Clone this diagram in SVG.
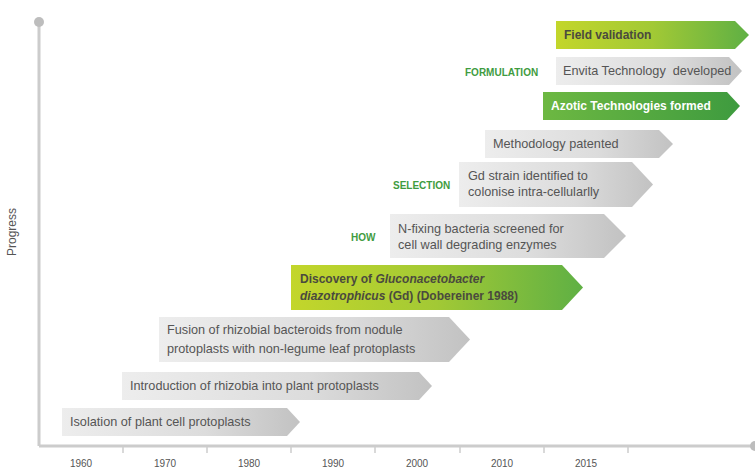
<svg xmlns="http://www.w3.org/2000/svg" width="755" height="469" viewBox="0 0 755 469">
<defs>
<linearGradient id="gGray" x1="0" y1="0" x2="1" y2="0">
<stop offset="0" stop-color="#ededed"/>
<stop offset="0.6" stop-color="#dcdcdc"/>
<stop offset="1" stop-color="#c2c2c2"/>
</linearGradient>
<linearGradient id="gLime" x1="0" y1="0" x2="1" y2="0">
<stop offset="0" stop-color="#c3d62b"/>
<stop offset="0.5" stop-color="#a2c935"/>
<stop offset="1" stop-color="#5fb044"/>
</linearGradient>
<linearGradient id="gGreen" x1="0" y1="0" x2="1" y2="0">
<stop offset="0" stop-color="#6db842"/>
<stop offset="1" stop-color="#3e9b3f"/>
</linearGradient>
</defs>
<style>
text{font-family:"Liberation Sans",Arial,sans-serif;}
.t{font-size:12.7px;fill:#555;}
.tb{font-size:12px;fill:#4a4a3e;font-weight:bold;}
.tw{font-size:12px;fill:#fff;font-weight:bold;}
.lab{font-size:10px;fill:#3f9c3f;font-weight:bold;}
.yr{font-size:10px;fill:#555;text-anchor:middle;}
.axis{stroke:#cccccc;stroke-width:3;fill:none;}
.tick{stroke:#cccccc;stroke-width:1.5;}
.gray{fill:url(#gGray);}
.lime{fill:url(#gLime);}
.green{fill:url(#gGreen);}
</style>
<rect width="755" height="469" fill="#ffffff"/>
<g id="axes">
<line class="axis" x1="39" y1="22" x2="39" y2="446"/>
<line class="axis" x1="39" y1="446" x2="754" y2="446"/>
<circle cx="39" cy="22" r="5" fill="#bdbdbd"/>
<circle cx="755" cy="446" r="5" fill="#bdbdbd"/>
<line class="tick" x1="123" y1="446" x2="123" y2="453"/>
<line class="tick" x1="207" y1="446" x2="207" y2="453"/>
<line class="tick" x1="291" y1="446" x2="291" y2="453"/>
<line class="tick" x1="375" y1="446" x2="375" y2="453"/>
<line class="tick" x1="460" y1="446" x2="460" y2="453"/>
<line class="tick" x1="544" y1="446" x2="544" y2="453"/>
<line class="tick" x1="628" y1="446" x2="628" y2="453"/>
<text class="yr" x="81" y="467">1960</text>
<text class="yr" x="165" y="467">1970</text>
<text class="yr" x="249" y="467">1980</text>
<text class="yr" x="333" y="467">1990</text>
<text class="yr" x="417" y="467">2000</text>
<text class="yr" x="502" y="467">2010</text>
<text class="yr" x="586" y="467">2015</text>
<text x="16" y="232" transform="rotate(-90 16 232)" text-anchor="middle" style="font-size:12px;fill:#555;font-family:'Liberation Sans',Arial,sans-serif">Progress</text>
</g>
<g id="phase-labels">
<text class="lab" x="465" y="76">FORMULATION</text>
<text class="lab" x="393" y="189">SELECTION</text>
<text class="lab" x="351" y="241">HOW</text>
</g>
<g id="field-validation">
<path class="lime" d="M556 21H735L749 35L735 49H556Z"/>
<text class="tb" x="564" y="39">Field validation</text>
</g>
<g id="envita">
<path class="gray" d="M556 57H729L742 71L729 85H556Z"/>
<text class="t" x="563" y="75" xml:space="preserve">Envita Technology  developed</text>
</g>
<g id="azotic">
<path class="green" d="M543 92H727L740 106L727 120H543Z"/>
<text class="tw" x="551" y="110">Azotic Technologies formed</text>
</g>
<g id="methodology">
<path class="gray" d="M485 130H659L673 144L659 158H485Z"/>
<text class="t" x="493" y="148">Methodology patented</text>
</g>
<g id="gd-strain">
<path class="gray" d="M459 162H632L653 184.5L632 207H459Z"/>
<text class="t" x="468" y="180">Gd strain identified to</text>
<text class="t" x="468" y="196">colonise intra-cellularlly</text>
</g>
<g id="n-fixing">
<path class="gray" d="M390 214H604L626 236L604 258H390Z"/>
<text class="t" x="398" y="233">N-fixing bacteria screened for</text>
<text class="t" x="398" y="249">cell wall degrading enzymes</text>
</g>
<g id="discovery">
<path class="lime" d="M291 265H562L583 287.5L562 310H291Z"/>
<text class="tb" x="300" y="283">Discovery of <tspan font-style="italic">Gluconacetobacter</tspan></text>
<text class="tb" x="300" y="300"><tspan font-style="italic">diazotrophicus</tspan> (Gd) (Dobereiner 1988)</text>
</g>
<g id="fusion">
<path class="gray" d="M159 317H449L470 339.5L449 362H159Z"/>
<text class="t" x="167" y="334">Fusion of rhizobial bacteroids from nodule</text>
<text class="t" x="167" y="353">protoplasts with non-legume leaf protoplasts</text>
</g>
<g id="introduction">
<path class="gray" d="M122 372H419L432 386L419 400H122Z"/>
<text class="t" x="130" y="390">Introduction of rhizobia into plant protoplasts</text>
</g>
<g id="isolation">
<path class="gray" d="M62 408H287L300 422L287 436H62Z"/>
<text class="t" x="70" y="426">Isolation of plant cell protoplasts</text>
</g>
<g id="connectors"></g>
</svg>
